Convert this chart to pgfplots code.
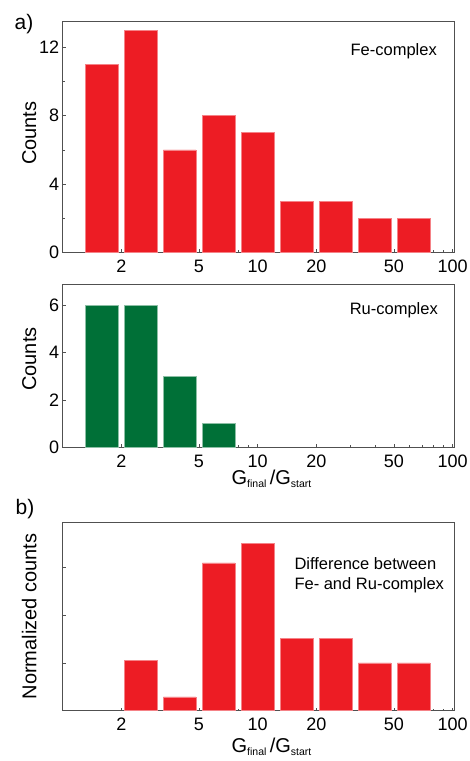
\documentclass[border=0pt]{standalone}
\usepackage{fontspec}
\setmainfont{Liberation Sans}
\usepackage{pgfplots}
\pgfplotsset{compat=1.18}
\definecolor{barred}{RGB}{237,28,36}
\definecolor{bargreen}{RGB}{0,112,55}
\definecolor{axisgray}{RGB}{80,80,80}

% shared look of the three log-x panels
\pgfplotsset{
  every axis/.append style={
    scale only axis, width=391.6pt,
    xmin=1, xmax=102,
    xtick={2,5,10,20,50,100}, xticklabels={2,5,10,20,50,100},
    minor xtick={3,4,6,7,8,9,30,40,60,70,80,90},
    ymin=0,
    xtick pos=bottom, ytick pos=left, tick align=inside,
    major tick length=3pt, minor tick length=2pt,
    axis line style={axisgray, line width=0.8pt},
    tick style={axisgray, line width=0.6pt},
    tick label style={font=\fontsize{18}{18}\selectfont},
    xticklabel style={yshift=-4pt},
    label style={font=\fontsize{20}{20}\selectfont},
  },
}
\newcommand{\gratio}{G{\fontsize{10.5}{10}\selectfont\raisebox{-3pt}{final}}\,/G{\fontsize{10.5}{10}\selectfont\raisebox{-3pt}{start}}}

\begin{document}
\begin{tikzpicture}
\path[use as bounding box] (0,0) rectangle (469pt,-761pt);

% a) Fe-complex
\begin{axis}[xmode=log, /pgf/number format/assume math mode=true,
  at={(62.7pt,-252.3pt)}, anchor=south west, height=230.6pt,
  ymax=13.5, ytick={0,4,8,12}, minor ytick={2,6,10},
  ylabel={Counts}, ylabel style={at={(axis description cs:-0.0855,0.516)}, anchor=center}]
\addplot[ybar interval, /pgf/bar interval width=0.83, fill=barred, draw=barred!55!white, line width=0.5pt] coordinates {
  (1.2589,11) (1.9953,13) (3.1623,6) (5.0119,8) (7.9433,7)
  (12.589,3) (19.953,3) (31.623,2) (50.119,2) (79.433,2)
};
\end{axis}

% Ru-complex
\begin{axis}[xmode=log, /pgf/number format/assume math mode=true,
  at={(62.7pt,-447.3pt)}, anchor=south west, height=162.6pt,
  ymax=6.86, ytick={0,2,4,6},
  ylabel={Counts}, ylabel style={at={(axis description cs:-0.0855,0.543)}, anchor=center},
  xlabel={\gratio}, xlabel style={at={(axis description cs:0.5,0)}, anchor=base, xshift=13pt, yshift=-36.7pt}]
\addplot[ybar interval, /pgf/bar interval width=0.83, fill=bargreen, draw=bargreen!45!white, line width=0.5pt] coordinates {
  (1.2589,6) (1.9953,6) (3.1623,3) (5.0119,1) (7.9433,1)
};
\end{axis}

% b) difference
\begin{axis}[xmode=log,
  at={(62.7pt,-710.7pt)}, anchor=south west, height=188.4pt,
  ymax=3.94, ytick={1,2,3}, yticklabels={},
  ylabel={Normalized counts}, ylabel style={at={(axis description cs:-0.0855,0.5)}, anchor=center},
  xlabel={\gratio}, xlabel style={at={(axis description cs:0.5,0)}, anchor=base, xshift=13pt, yshift=-42pt}]
\addplot[ybar interval, /pgf/bar interval width=0.83, fill=barred, draw=barred!55!white, line width=0.5pt] coordinates {
  (1.9953,1.05) (3.1623,0.29) (5.0119,3.09) (7.9433,3.5)
  (12.589,1.51) (19.953,1.51) (31.623,1.0) (50.119,1.0) (79.433,1.0)
};
\end{axis}

\node[font=\fontsize{21}{21}\selectfont, inner sep=0] at (24pt,-24pt) {a)};
\node[font=\fontsize{21}{21}\selectfont, inner sep=0] at (25pt,-509pt) {b)};
\node[font=\fontsize{16.5}{16.5}\selectfont, anchor=east, inner sep=0] at (437pt,-51.7pt) {Fe-complex};
\node[font=\fontsize{16.5}{16.5}\selectfont, anchor=east, inner sep=0] at (438pt,-310.7pt) {Ru-complex};
\node[font=\fontsize{16.5}{20}\selectfont, anchor=west, align=left, inner sep=0] at (294.3pt,-575pt) {Difference between\\Fe- and Ru-complex};
\end{tikzpicture}
\end{document}
